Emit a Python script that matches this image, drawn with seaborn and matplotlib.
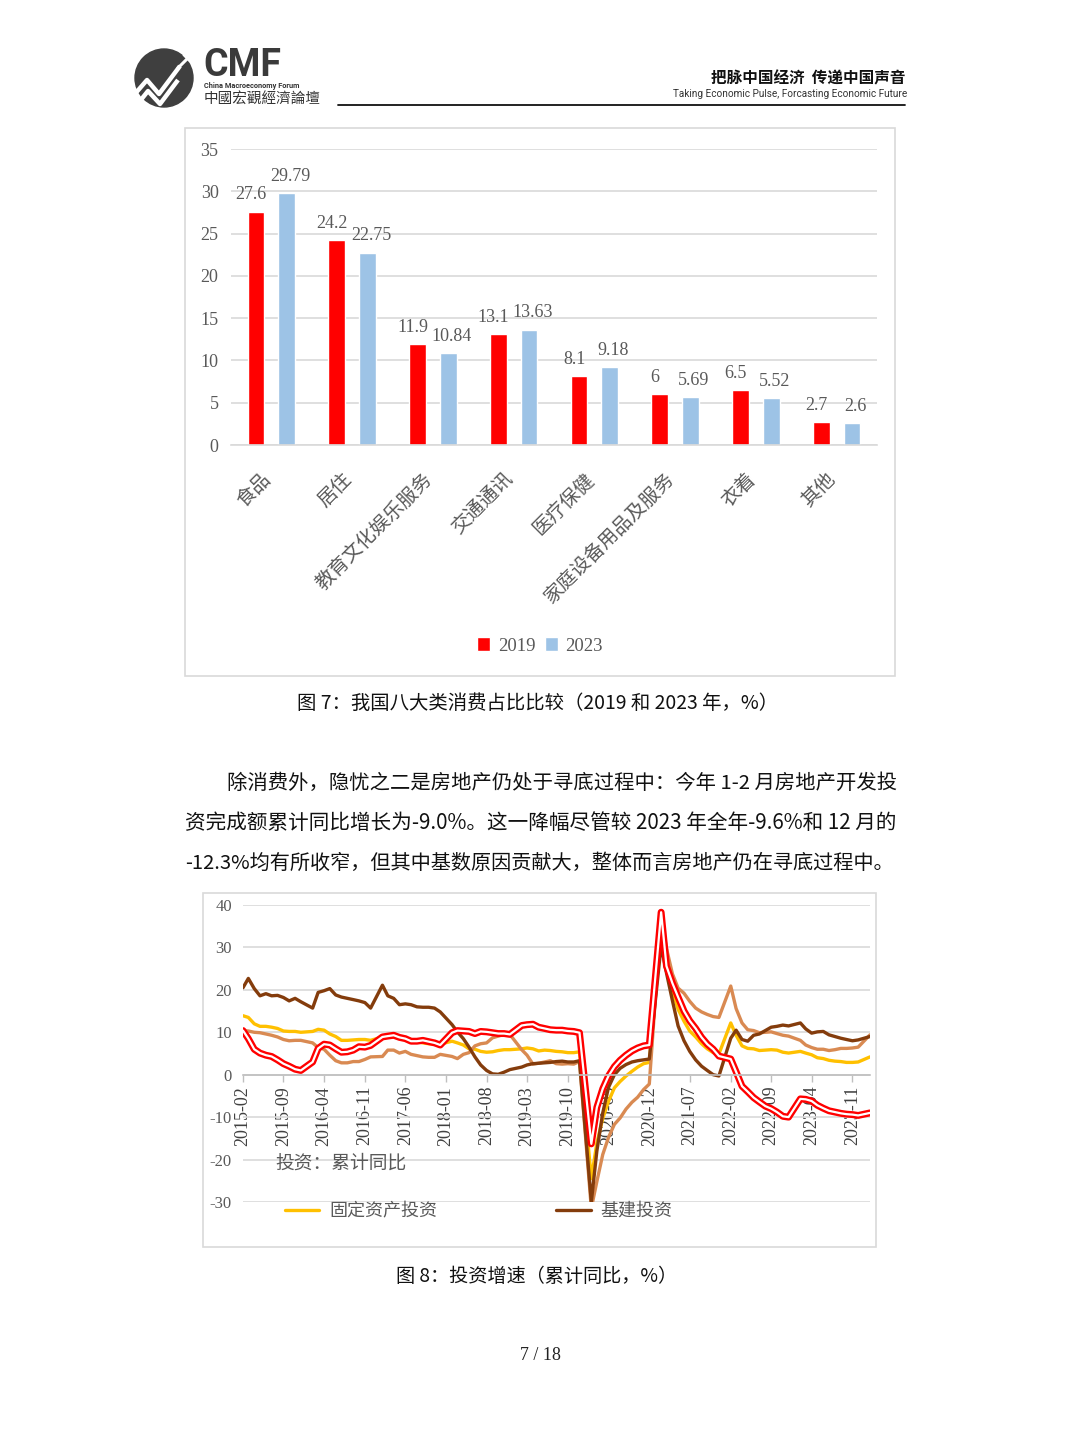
import matplotlib
matplotlib.use('Agg')
import matplotlib.pyplot as plt
import matplotlib.transforms as mtrans
from matplotlib.patches import Rectangle, Circle, Polygon
from matplotlib.lines import Line2D
import seaborn as sns
import numpy as np
import pandas as pd

# ---------------- data: chart 1 ----------------
categories = ['食品', '居住', '教育文化娱乐服务', '交通通讯', '医疗保健',
              '家庭设备用品及服务', '衣着', '其他']
years = ['2019', '2023']
share_2019 = [27.6, 24.2, 11.9, 13.1, 8.1, 6, 6.5, 2.7]
share_2023 = [29.79, 22.75, 10.84, 13.63, 9.18, 5.69, 5.52, 2.6]
labels_2019 = ['27.6', '24.2', '11.9', '13.1', '8.1', '6', '6.5', '2.7']
labels_2023 = ['29.79', '22.75', '10.84', '13.63', '9.18', '5.69', '5.52', '2.6']

# ---------------- data: chart 2 (cumulative YoY, Feb-Dec each year) ----------------
months = [f'{y}-{m:02d}' for y in range(2015, 2024) for m in range(2, 13)] + ['2024-02']
tick_labels = ['2015-02', '2015-09', '2016-04', '2016-11', '2017-06', '2018-01',
               '2018-08', '2019-03', '2019-10', '2020-05', '2020-12', '2021-07',
               '2022-02', '2022-09', '2023-04', '2023-11']

fai = [13.9, 13.5, 12.0, 11.4, 11.4, 11.2, 10.9, 10.3, 10.2, 10.2, 10.0,
       10.2, 10.7, 10.5, 9.6, 9.0, 8.1, 8.1, 8.2, 8.3, 8.3, 8.1,
       8.9, 9.2, 8.9, 8.6, 8.6, 8.3, 7.8, 7.5, 7.3, 7.2, 7.2,
       7.9, 7.5, 7.0, 6.1, 6.0, 5.5, 5.3, 5.4, 5.7, 5.9, 5.9,
       6.1, 6.3, 6.1, 5.6, 5.8, 5.7, 5.5, 5.4, 5.2, 5.2, 5.4,
       -24.5, -16.1, -10.3, -6.3, -3.1, -1.6, -0.3, 0.8, 1.8, 2.6, 2.9,
       35.0, 25.6, 19.9, 15.4, 12.6, 10.3, 8.9, 7.3, 6.1, 5.2, 4.9,
       12.2, 9.3, 6.8, 6.2, 6.1, 5.7, 5.8, 5.9, 5.8, 5.3, 5.1,
       5.5, 5.1, 4.7, 4.0, 3.8, 3.4, 3.2, 3.1, 2.9, 2.9, 3.0,
       4.2]
manufacturing = [10.4, 10.3, 10.0, 9.9, 9.6, 9.3, 8.9, 8.3, 8.0, 8.1, 8.1,
                 7.5, 6.4, 6.0, 4.6, 3.3, 2.8, 2.8, 3.1, 3.1, 3.6, 4.2,
                 4.3, 5.8, 5.8, 5.1, 5.5, 4.8, 4.5, 4.2, 4.1, 4.1, 4.8,
                 4.3, 3.8, 4.8, 5.2, 6.8, 7.3, 7.5, 8.7, 9.1, 9.5, 9.5,
                 5.9, 4.6, 2.5, 2.7, 3.0, 3.3, 2.6, 2.5, 2.6, 2.5, 3.1,
                 -31.5, -25.2, -18.8, -14.8, -11.7, -10.2, -8.1, -6.5, -5.3, -3.5, -2.2,
                 37.3, 29.8, 23.8, 20.4, 19.2, 17.3, 15.7, 14.8, 14.2, 13.7, 13.5,
                 20.9, 15.6, 12.2, 10.6, 10.4, 9.9, 10.0, 10.1, 9.7, 9.3, 9.1,
                 8.1, 7.0, 6.4, 6.0, 6.0, 5.7, 5.9, 6.2, 6.2, 6.3, 6.5,
                 9.4]
infrastructure = [20.5, 22.7, 20.3, 18.6, 19.1, 18.6, 18.7, 18.2, 17.4, 18.0, 17.2,
                  15.7, 19.4, 19.8, 20.3, 18.8, 18.3, 18.0, 17.7, 17.4, 17.0, 15.7,
                  21.1, 18.6, 18.0, 16.5, 16.7, 16.5, 16.0, 15.9, 15.9, 15.7, 14.8,
                  11.8, 10.1, 8.5, 6.5, 4.2, 2.3, 1.0, 0.2, 0.1, 0.6, 1.2,
                  1.8, 2.3, 2.6, 2.7, 2.8, 2.9, 3.1, 3.2, 3.0, 3.0, 3.3,
                  -30.0, -18.0, -9.0, -3.0, 0.0, 1.5, 2.4, 3.0, 3.3, 3.5, 3.7,
                  30.5, 24.0, 17.5, 11.5, 8.0, 5.5, 3.5, 2.0, 1.0, 0.0, -0.3,
                  8.6, 10.5, 8.3, 7.9, 9.3, 9.6, 10.4, 11.2, 11.4, 11.7, 11.5,
                  12.2, 10.8, 9.8, 10.1, 10.2, 9.4, 9.0, 8.6, 8.3, 8.0, 8.2,
                  9.0]
real_estate = [10.4, 8.5, 6.0, 5.1, 4.6, 4.3, 3.5, 2.6, 2.0, 1.3, 1.0,
               3.0, 6.2, 7.2, 7.0, 6.1, 5.3, 5.4, 5.8, 6.6, 6.5, 6.9,
               8.9, 9.1, 9.3, 8.8, 8.5, 7.9, 7.9, 8.1, 7.8, 7.5, 7.0,
               9.9, 10.4, 10.3, 10.2, 9.7, 10.2, 10.1, 9.9, 9.7, 9.7, 9.5,
               11.6, 11.8, 11.9, 11.2, 10.9, 10.6, 10.5, 10.5, 10.3, 10.2, 9.9,
               -16.3, -7.7, -3.3, -0.3, 1.9, 3.4, 4.6, 5.6, 6.3, 6.8, 7.0,
               38.3, 25.6, 21.6, 18.3, 15.0, 12.7, 10.9, 8.8, 7.2, 6.0, 4.4,
               3.7, 0.7, -2.7, -4.0, -5.4, -6.4, -7.4, -8.0, -8.8, -9.8, -10.0,
               -5.7, -5.8, -6.2, -7.2, -7.9, -8.5, -8.8, -9.1, -9.3, -9.4, -9.6,
               -9.0]
legend_names = ['固定资产投资', '基建投资']

# ---------------- text ----------------
header_cn = '把脉中国经济  传递中国声音'
header_en = 'Taking Economic Pulse, Forcasting Economic Future'
caption7 = '图 7：我国八大类消费占比比较（2019 和 2023 年，%）'
caption8 = '图 8：投资增速（累计同比，%）'
para = ['除消费外，隐忧之二是房地产仍处于寻底过程中：今年 1-2 月房地产开发投',
        '资完成额累计同比增长为-9.0%。这一降幅尽管较 2023 年全年-9.6%和 12 月的',
        '-12.3%均有所收窄，但其中基数原因贡献大，整体而言房地产仍在寻底过程中。']

# ---------------- figure ----------------
W, H = 1080, 1439
sns.set_theme(style='white')
CJK = ['Noto Sans CJK SC', 'DejaVu Sans']
SERIF = ['Liberation Serif', 'DejaVu Serif']
plt.rcParams['font.family'] = CJK
plt.rcParams['axes.unicode_minus'] = False

fig = plt.figure(figsize=(W / 100, H / 100), dpi=100)
fig.patch.set_facecolor('white')


def fx(x):
    return x / W


def fy(y):
    return 1 - y / H


def rect(x0, y0, x1, y1):
    return [x0 / W, 1 - y1 / H, (x1 - x0) / W, (y1 - y0) / H]


renderer = fig.canvas.get_renderer()


def fit_text(x0, x1, y, s, size, ha='left', **kw):
    xpos = x0 if ha == 'left' else (x0 + x1) / 2
    t = fig.text(fx(xpos), fy(y), s, fontsize=size, ha=ha, va='center', **kw)
    w = t.get_window_extent(renderer).width
    t.set_fontsize(size * (x1 - x0) / w)
    return t


# ---------------- header ----------------
axl = fig.add_axes(rect(126, 40, 204, 112))
axl.set_xlim(126, 204)
axl.set_ylim(112, 40)
axl.axis('off')
axl.add_patch(Circle((164, 78), 29, color='#3f3f3f'))
axl.plot([134, 147, 159, 180], [95, 80, 94, 66], color='white', lw=3.2, solid_capstyle='butt')
axl.plot([136, 148, 160, 178], [106, 91, 104, 80], color='white', lw=3.2, solid_capstyle='butt')
axl.plot([178, 190], [68, 56], color='white', lw=2.2)
axl.add_patch(Polygon([[194, 50], [183, 55], [189, 61]], closed=True, color='white'))

fig.text(fx(203), fy(66), 'CMF', fontsize=27, fontweight='bold', color='#3a3a3a',
         family=['Roboto', 'DejaVu Sans'], ha='left', va='center')
fig.text(fx(204), fy(86.5), 'China Macroeconomy Forum', fontsize=5.3, fontweight='bold',
         color='#333333', family=['Roboto', 'DejaVu Sans'], ha='left', va='center')
fig.text(fx(204), fy(99), '中國宏觀經濟論壇', fontsize=10.5, color='#333333',
         family=['Noto Sans CJK TC', 'DejaVu Sans'], ha='left', va='center')
fit_text(711, 905, 78, header_cn, 11, fontweight='bold', color='#111111')
fit_text(673, 905, 94, header_en, 6.6, color='#333333', family=['Roboto', 'DejaVu Sans'])
fig.add_artist(Line2D([fx(338), fx(905)], [fy(104.5), fy(104.5)], color='#111111', lw=1.3))

# ---------------- chart 1 ----------------
fig.add_artist(Rectangle((fx(185), fy(676)), (895 - 185) / W, (676 - 128) / H,
                         transform=fig.transFigure, fill=False, edgecolor='#D9D9D9', lw=1.2))
ax1 = fig.add_axes(rect(231, 149, 877, 445))
df1 = pd.DataFrame({'category': categories * 2,
                    'year': [years[0]] * len(categories) + [years[1]] * len(categories),
                    'share': share_2019 + share_2023})
sns.barplot(data=df1, x='category', y='share', hue='year',
            palette={'2019': '#FF0000', '2023': '#9DC3E6'}, saturation=1,
            width=0.76, gap=0.45, ax=ax1, errorbar=None)
ax1.set_ylim(0, 35)
ax1.set_yticks(range(0, 36, 5))
ax1.yaxis.grid(True, color='#D9D9D9', lw=1.2)
ax1.set_axisbelow(True)
for s in ['top', 'left', 'right']:
    ax1.spines[s].set_visible(False)
ax1.spines['bottom'].set_color('#D9D9D9')
ax1.spines['bottom'].set_linewidth(1.2)
ax1.set_xlabel('')
ax1.set_ylabel('')
ax1.tick_params(axis='both', length=0)
ax1.tick_params(axis='y', pad=9)
for lab in ax1.get_yticklabels():
    lab.set_fontfamily(SERIF)
    lab.set_fontsize(13)
    lab.set_color('#595959')
ax1.set_xticks(range(len(categories)))
ax1.set_xticklabels(categories, rotation=45, ha='right', va='top', rotation_mode='anchor',
                    fontsize=14, color='#595959')
ax1.tick_params(axis='x', pad=17)
shift = mtrans.ScaledTranslation(-8 / 72, 0, fig.dpi_scale_trans)
for lab in ax1.get_xticklabels():
    lab.set_transform(lab.get_transform() + shift)
for cont, labs, dx in zip(ax1.containers, [labels_2019, labels_2023], [-3.5, 2.5]):
    texts = ax1.bar_label(cont, labels=labs, padding=6, fontsize=13, color='#595959',
                          family=SERIF)
    for t in texts:
        ox, oy = t.xyann
        t.xyann = (ox + dx, oy)
h1, l1 = ax1.get_legend_handles_labels()
ax1.legend(h1, l1, loc='center', bbox_to_anchor=(fx(540), fy(646)),
           bbox_transform=fig.transFigure, ncol=2, frameon=False,
           handlelength=0.7, handleheight=0.7, handletextpad=0.4, columnspacing=0.5,
           prop={'family': SERIF, 'size': 13.5}, labelcolor='#595959')

fit_text(297, 778, 703, caption7, 13.5, ha='center', color='#111111')

# ---------------- paragraph ----------------
fit_text(227, 895, 783, para[0], 14.5, color='#111111')
fit_text(185, 895, 823, para[1], 14.5, color='#111111')
fit_text(185, 895, 863, para[2], 14.5, color='#111111')

# ---------------- chart 2 ----------------
fig.add_artist(Rectangle((fx(203), fy(1247)), (876 - 203) / W, (1247 - 893) / H,
                         transform=fig.transFigure, fill=False, edgecolor='#D9D9D9', lw=1.2))
ax2 = fig.add_axes(rect(243, 905, 870, 1202))
dates = pd.to_datetime(months)
series = [(fai, '#FFC000', 2.4), (manufacturing, '#D98A52', 2.4),
          (infrastructure, '#843C0C', 2.4)]
handles = []
for vals, col, lw in series:
    n = len(ax2.lines)
    sns.lineplot(x=dates, y=vals, color=col, linewidth=lw, ax=ax2, estimator=None, sort=False)
    handles.append(ax2.lines[n])
sns.lineplot(x=dates, y=real_estate, color='#FF0000', linewidth=5.0, ax=ax2,
             estimator=None, sort=False)
sns.lineplot(x=dates, y=real_estate, color='white', linewidth=1.6, ax=ax2,
             estimator=None, sort=False)
ax2.set_xlim(dates.min(), dates.max())
ax2.set_ylim(-30, 40)
ax2.set_yticks(range(-30, 41, 10))
ax2.yaxis.grid(True, color='#D9D9D9', lw=1.2)
ax2.set_axisbelow(True)
for s in ['top', 'left', 'right']:
    ax2.spines[s].set_visible(False)
ax2.spines['bottom'].set_position(('data', 0))
ax2.spines['bottom'].set_color('#BFBFBF')
ax2.spines['bottom'].set_linewidth(1.2)
ax2.set_xlabel('')
ax2.set_ylabel('')
ax2.set_xticks(pd.to_datetime(tick_labels))
ax2.set_xticklabels(tick_labels, rotation=90, ha='center', va='top', fontsize=13,
                    color='#404040', family=SERIF)
ax2.tick_params(axis='x', length=5, width=1, color='#BFBFBF', direction='out', pad=3,
                bottom=True)
ax2.tick_params(axis='y', length=0, pad=8)
for lab in ax2.get_yticklabels():
    lab.set_fontfamily(SERIF)
    lab.set_fontsize(12)
    lab.set_color('#595959')

fig.text(fx(275), fy(1163), '投资：累计同比', fontsize=13.5, color='#595959',
         ha='left', va='center')
ax2.legend([handles[0], handles[2]], legend_names, loc='center left',
           bbox_to_anchor=(fx(285), fy(1211)), bbox_transform=fig.transFigure,
           ncol=2, frameon=False, borderpad=0, borderaxespad=0,
           handlelength=1.9, handletextpad=0.55, columnspacing=6.6,
           prop={'size': 13}, labelcolor='#595959')

fit_text(396, 678, 1277, caption8, 13.5, ha='center', color='#111111')
fig.text(fx(540), fy(1355), '7 / 18', fontsize=13, family=SERIF, color='#222222',
         ha='center', va='center')

fig.savefig('out.png', dpi=100, facecolor='white')
